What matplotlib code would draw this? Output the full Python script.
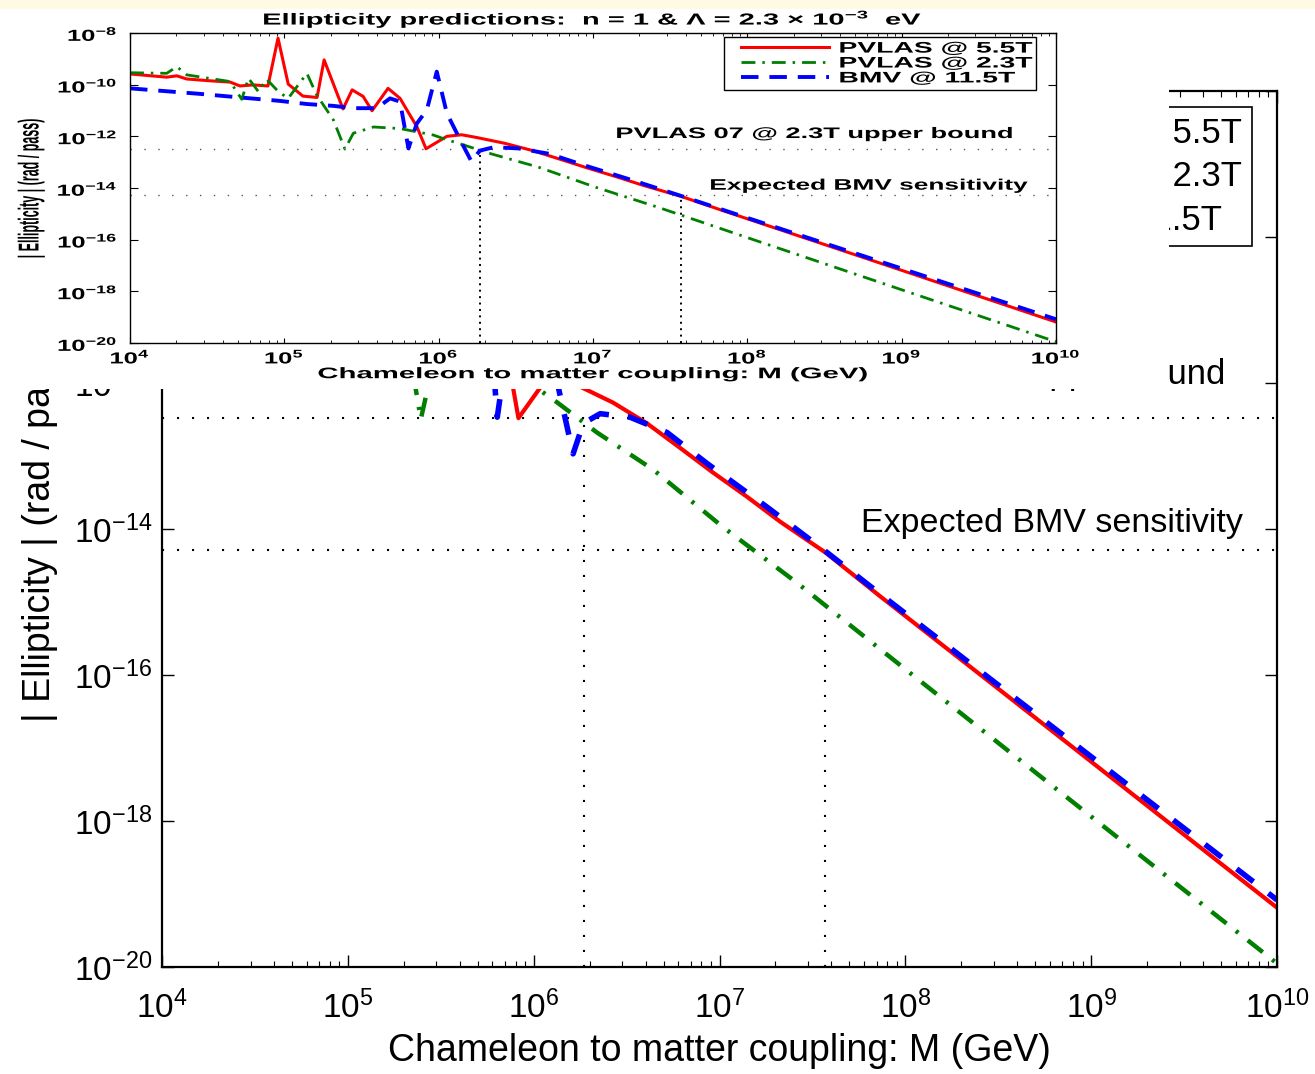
import numpy as np
import matplotlib
matplotlib.use("Agg")
import matplotlib.pyplot as plt
from matplotlib.lines import Line2D
from matplotlib.patches import Rectangle
from matplotlib.patheffects import AbstractPathEffect
from matplotlib.transforms import Affine2D
from matplotlib.ticker import NullLocator, NullFormatter, LogLocator
from matplotlib.legend_handler import HandlerLine2D

plt.rcParams["font.family"] = ["Liberation Sans", "DejaVu Sans"]

# ellipticity per pass vs chameleon-matter coupling M (GeV)
m_red = [1.00e4, 1.73e4, 2.01e4, 2.33e4, 3.30e4, 4.45e4, 5.16e4, 6.27e4, 7.83e4,
         9.10e4, 1.06e5, 1.32e5, 1.63e5, 1.81e5, 2.40e5, 2.75e5, 3.24e5, 3.70e5,
         4.70e5, 5.62e5, 7.24e5, 8.28e5, 1.13e6, 1.41e6, 1.78e6, 2.67e6, 4.07e6,
         6.14e6, 9.25e6, 1.41e7, 2.12e7, 3.70e7, 7.31e7, 3.16e8, 1.00e9, 3.16e9, 1.00e10]
e_red = [2.6e-10, 1.95e-10, 2.2e-10, 1.66e-10, 1.41e-10, 1.26e-10, 8.9e-11, 9.8e-11, 8.9e-11,
         6.3e-9, 1.05e-10, 3.6e-11, 3.2e-11, 9.1e-10, 1.15e-11, 6.3e-11, 3.5e-11, 9.8e-12,
         7.2e-11, 2.95e-11, 2.3e-12, 3.3e-13, 1.0e-12, 1.15e-12, 8.9e-13, 5.4e-13, 2.8e-13,
         1.29e-13, 5.9e-14, 2.75e-14, 1.26e-14, 4.8e-15, 1.2e-15, 6.5e-17, 6.5e-18, 6.5e-19, 6.5e-20]

m_grn = [1.00e4, 1.73e4, 2.01e4, 2.33e4, 4.45e4, 5.30e4, 5.85e4, 6.79e4, 7.69e4, 9.14e4,
         1.06e5, 1.40e5, 1.62e5, 2.08e5, 2.47e5, 2.80e5, 3.78e5, 5.62e5, 9.25e5, 1.11e6,
         1.34e6, 2.19e6, 4.40e6, 1.04e7, 2.62e7, 1.00e8, 1.00e9, 1.00e10]
e_grn = [2.9e-10, 2.75e-10, 5.0e-10, 2.4e-10, 1.32e-10, 2.7e-11, 1.78e-10, 5.4e-11, 1.62e-10, 5.4e-11,
         2.95e-11, 2.75e-10, 4.0e-11, 4.3e-12, 3.2e-13, 1.32e-12, 2.3e-12, 2.0e-12, 1.12e-12, 7.6e-13,
         5.4e-13, 2.1e-13, 6.5e-14, 1.07e-14, 1.82e-15, 1.2e-16, 1.15e-18, 1.12e-20]

m_blu = [1.00e4, 2.84e4, 5.16e4, 9.38e4, 1.40e5, 2.08e5, 2.80e5, 3.97e5, 4.84e5, 5.62e5,
         6.37e5, 7.21e5, 8.38e5, 9.72e5, 1.13e6, 1.38e6, 1.63e6, 1.85e6, 2.28e6, 3.30e6,
         5.22e6, 8.57e6, 1.80e7, 3.70e7, 7.31e7, 1.00e9, 1.00e10]
e_blu = [7.2e-11, 4.4e-11, 3.2e-11, 2.35e-11, 1.78e-11, 1.51e-11, 1.23e-11, 1.23e-11, 2.95e-11, 2.2e-11,
         3.4e-13, 3.1e-12, 1.05e-11, 3.2e-10, 7.8e-12, 7.2e-13, 1.07e-13, 2.8e-13, 3.8e-13, 3.4e-13,
         2.1e-13, 7.9e-14, 2.0e-14, 5.0e-15, 1.29e-15, 7.6e-18, 8.3e-20]

labels = ["PVLAS @ 5.5T", "PVLAS @ 2.3T", "BMV @ 11.5T"]

UPPER_BOUND = 3.3e-13   # PVLAS 07 @ 2.3T
BMV_SENS = 5.2e-15      # expected BMV sensitivity
M_UPPER = 1.86e6
M_BMV = 3.7e7

RED, GRN, BLU = "#ff0000", "#007f00", "#0000ff"

W, H = 1315, 1074


class HStretch(AbstractPathEffect):
    """Widen glyph outlines along display x about one edge of the text."""

    def __init__(self, sx, anchor="center"):
        super().__init__()
        self.sx = sx
        self.anchor = anchor

    def draw_path(self, renderer, gc, tpath, affine, rgbFace=None):
        ext = tpath.get_extents(affine)
        if self.anchor == "left":
            x0 = ext.x0
        elif self.anchor == "right":
            x0 = ext.x1
        else:
            x0 = 0.5 * (ext.x0 + ext.x1)
        a = affine + Affine2D().translate(-x0, 0).scale(self.sx, 1).translate(x0, 0)
        renderer.draw_path(gc, tpath, a, rgbFace)


def stretch(t, sx, anchor="center"):
    t.set_path_effects([HStretch(sx, anchor)])


def fig_box(left, top, right, bottom):
    return [left / W, 1 - bottom / H, (right - left) / W, (bottom - top) / H]


def setup_log_axes(ax):
    ax.set_xscale("log")
    ax.set_yscale("log")
    ax.set_xlim(1e4, 1e10)
    ax.set_ylim(1e-20, 1e-8)
    ax.set_xticks([10.0 ** k for k in range(4, 11)])
    ax.set_yticks([10.0 ** k for k in range(-20, -7, 2)])
    ax.xaxis.set_minor_locator(LogLocator(base=10, subs=np.arange(2, 10), numticks=60))
    ax.xaxis.set_minor_formatter(NullFormatter())
    ax.yaxis.set_minor_locator(NullLocator())
    ax.tick_params(which="both", direction="in", top=True, right=True, colors="k")


fig = plt.figure(figsize=(W / 100, H / 100), dpi=100)

# ---- main panel ----
ax = fig.add_axes(fig_box(162, 91, 1277, 967), zorder=1)
setup_log_axes(ax)
for s in ax.spines.values():
    s.set_linewidth(1.6)
ax.tick_params(which="major", length=8.5, width=1.0)
ax.tick_params(which="minor", length=4.3, width=0.8)
ax.tick_params(axis="x", labelsize=24, pad=17)
ax.tick_params(axis="y", labelsize=24, pad=7)
# the two top labels sit under the small panel
for tick in ax.yaxis.get_major_ticks()[-2:]:
    tick.label1.set_visible(False)

big_dot = (0, (1, 6.2))
ax.axhline(UPPER_BOUND, color="k", lw=1.5, ls=big_dot)
ax.axhline(BMV_SENS, color="k", lw=1.5, ls=big_dot)
ax.vlines(M_UPPER, 1e-20, UPPER_BOUND, color="k", lw=1.5, ls=big_dot)
ax.vlines(M_BMV, 1e-20, BMV_SENS, color="k", lw=1.5, ls=big_dot)

ax.plot(m_red, e_red, color=RED, lw=3.0, label=labels[0])
ax.plot(m_grn, e_grn, color=GRN, lw=3.2, ls=(0, (4.3, 2.7, 0.7, 2.7)), label=labels[1])
ax.plot(m_blu, e_blu, color=BLU, lw=4.0, ls=(0, (3.8, 3.4)), label=labels[2])

ax.text(5.25e9, 9.6e-13, "PVLAS 07 @ 2.3T upper bound", ha="right", va="baseline", fontsize=25)
ax.text(6.55e9, 9.1e-15, "Expected BMV sensitivity", ha="right", va="baseline", fontsize=24.5)

leg = ax.legend(loc="upper right", bbox_to_anchor=(1252 / W, 1 - 107 / H),
                bbox_transform=fig.transFigure, borderaxespad=0, fontsize=25,
                fancybox=False, edgecolor="k", framealpha=1, labelspacing=0.3,
                handlelength=4.5, borderpad=0.28)
leg.get_frame().set_linewidth(1.2)

ax.set_xlabel("Chameleon to matter coupling: M (GeV)", fontsize=27)
ax.set_ylabel("| Ellipticity | (rad / pass)", fontsize=27)
ax.xaxis.set_label_coords(0.5, -0.075)
ax.yaxis.set_label_coords(-0.093, 0.5)

# white sheet the small panel sits on
fig.add_artist(Rectangle((0, 1 - 389 / H), 1169 / W, 389 / H, transform=fig.transFigure,
                         facecolor="white", edgecolor="none", zorder=2))

# ---- small panel ----
ax_in = fig.add_axes(fig_box(130, 33, 1056, 343), zorder=3)
setup_log_axes(ax_in)
for s in ax_in.spines.values():
    s.set_linewidth(1.0)
ax_in.tick_params(axis="y", which="major", length=6, width=0.8, labelsize=11.5, pad=9)
ax_in.tick_params(axis="x", which="major", length=3.5, width=0.8, labelsize=11.5, pad=3.5)
ax_in.tick_params(which="minor", length=2, width=0.6)
for lab in ax_in.get_xticklabels():
    lab.set_fontweight("bold")
    stretch(lab, 1.6, "center")
for lab in ax_in.get_yticklabels():
    lab.set_fontweight("bold")
    stretch(lab, 1.6, "right")

ax_in.axhline(UPPER_BOUND, color="#555555", lw=1.0, ls=(0, (1, 9)))
ax_in.axhline(BMV_SENS, color="#555555", lw=1.0, ls=(0, (1, 9)))
ax_in.vlines(M_UPPER, 1e-20, UPPER_BOUND, color="k", lw=1.4, ls=(0, (1, 2.3)))
ax_in.vlines(M_BMV, 1e-20, BMV_SENS, color="k", lw=1.4, ls=(0, (1, 2.3)))

h1, = ax_in.plot(m_red, e_red, color=RED, lw=2.2)
h2, = ax_in.plot(m_grn, e_grn, color=GRN, lw=2.0, ls=(0, (5, 2.5, 0.9, 2.5)))
h3, = ax_in.plot(m_blu, e_blu, color=BLU, lw=2.8, ls=(0, (4.5, 2.8)))

t = ax_in.text(5.25e9, 8.6e-13, "PVLAS 07 @ 2.3T upper bound", ha="right", va="baseline",
               fontsize=11, fontweight="bold")
stretch(t, 1.78, "right")
t = ax_in.text(6.55e9, 8.6e-15, "Expected BMV sensitivity", ha="right", va="baseline",
               fontsize=11, fontweight="bold")
stretch(t, 1.72, "right")

leg_in = ax_in.legend([h1, h2, h3], labels, loc="upper left", mode="expand",
                      bbox_to_anchor=(724 / W, 1 - 88 / H, 312 / W, 51 / H),
                      bbox_transform=fig.transFigure, borderaxespad=0,
                      prop={"weight": "bold", "size": 11}, borderpad=0.3, labelspacing=0.06,
                      handlelength=6.6, handletextpad=0.65,
                      handler_map={Line2D: HandlerLine2D(xpad=0.8)},
                      fancybox=False, edgecolor="k", framealpha=1)
leg_in.get_frame().set_linewidth(1.0)
for txt in leg_in.get_texts():
    stretch(txt, 1.85, "left")

ax_in.set_title("Ellipticity predictions:  n = 1 & \u039b = 2.3 \u00d7 10$^{\\mathdefault{-3}}$  eV",
                fontsize=11.5, fontweight="bold", pad=6)
stretch(ax_in.title, 1.82)
ax_in.set_xlabel("Chameleon to matter coupling: M (GeV)", fontsize=11, fontweight="bold")
ax_in.set_ylabel("| Ellipticity | (rad / pass)", fontsize=9, fontweight="bold")
ax_in.xaxis.set_label_coords(0.5, -0.078)
ax_in.yaxis.set_label_coords(-0.1, 0.5)
stretch(ax_in.xaxis.label, 1.92)
stretch(ax_in.yaxis.label, 2.3)

# pale strip along the top edge
fig.add_artist(Rectangle((0, 1 - 9 / H), 1, 9 / H, transform=fig.transFigure,
                         facecolor="#fffbe3", edgecolor="none", zorder=5))

fig.savefig("out.png", dpi=100)
